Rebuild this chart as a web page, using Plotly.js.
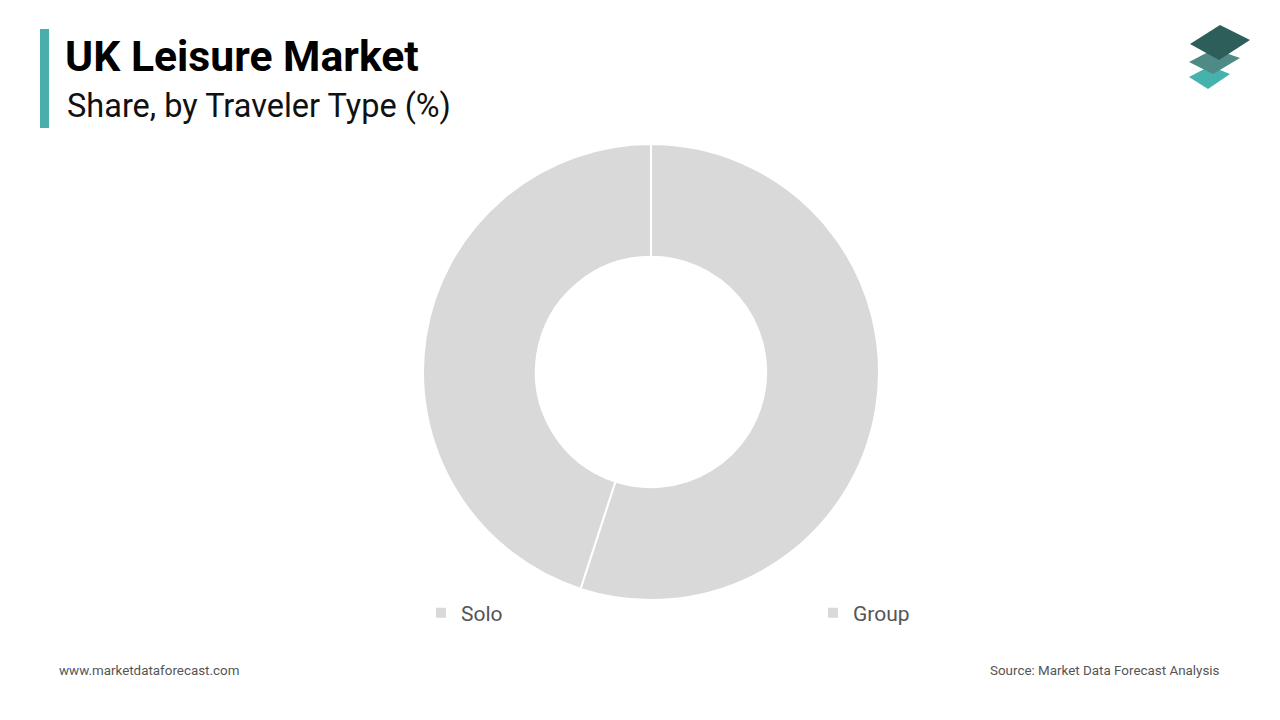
<!DOCTYPE html>
<html>
<head>
<meta charset="utf-8">
<script src="https://cdn.plot.ly/plotly-3.0.1.min.js"></script>
<style>
html,body{margin:0;padding:0;background:#fff;}
#chart{width:1280px;height:720px;}
</style>
</head>
<body>
<div id="chart"></div>
<script>
const categories = ["Solo", "Group"];
const shares = [55, 45];
const sliceColors = ["#d9d9d9", "#d9d9d9"];

const W = 1280, H = 720;
const px = x => x / W;
const py = y => 1 - y / H;

const trace = {
  type: "pie",
  labels: categories,
  values: shares,
  hole: 0.505,
  sort: false,
  direction: "clockwise",
  rotation: 0,
  textinfo: "none",
  hoverinfo: "label+percent",
  marker: { colors: sliceColors, line: { color: "#ffffff", width: 2 } },
  domain: { x: [px(651 - 228), px(651 + 228)], y: [py(600), py(144)] },
  showlegend: true
};

function diamond(l, t, r, b, color) {
  const p = [l, t, r, b].map(q => `${px(q[0])},${py(q[1])}`);
  return {
    type: "path", xref: "paper", yref: "paper",
    path: `M ${p[0]} L ${p[1]} L ${p[2]} L ${p[3]} Z`,
    fillcolor: color, line: { width: 0 }
  };
}

const layout = {
  width: W, height: H,
  margin: { l: 0, r: 0, t: 0, b: 0, autoexpand: false },
  paper_bgcolor: "#ffffff",
  font: { family: "Roboto, sans-serif", color: "#555555" },
  showlegend: true,
  legend: {
    orientation: "h",
    x: px(421), xanchor: "left",
    y: py(613), yanchor: "middle",
    entrywidth: 347, entrywidthmode: "pixels",
    itemwidth: 30,
    font: { size: 21, color: "#555555", family: "Roboto, sans-serif" },
    bgcolor: "rgba(0,0,0,0)"
  },
  shapes: [
    { type: "rect", xref: "paper", yref: "paper",
      x0: px(40), x1: px(49), y0: py(128), y1: py(29),
      fillcolor: "#4aaeaa", line: { width: 0 } },
    diamond([1189, 77], [1210, 66], [1230, 74], [1208, 89], "#45b2ad"),
    diamond([1189, 62], [1214, 49], [1240, 58], [1213, 74], "#4f8a86"),
    diamond([1190, 44], [1220, 25], [1250, 40], [1219, 60], "#2e5e5a")
  ],
  annotations: [
    { text: "<b>UK Leisure Market</b>", xref: "paper", yref: "paper",
      x: px(63), y: py(56), xanchor: "left", yanchor: "middle", showarrow: false,
      font: { family: "Roboto, sans-serif", size: 42.7, color: "#000000" } },
    { text: "Share, by Traveler Type (%)", xref: "paper", yref: "paper",
      x: px(65), y: py(106), xanchor: "left", yanchor: "middle", showarrow: false,
      font: { family: "Roboto, sans-serif", size: 32.5, color: "#111111" } },
    { text: "www.marketdataforecast.com", xref: "paper", yref: "paper",
      x: px(57), y: py(670), xanchor: "left", yanchor: "middle", showarrow: false,
      font: { family: "Roboto, sans-serif", size: 13.4, color: "#555555" } },
    { text: "Source: Market Data Forecast Analysis", xref: "paper", yref: "paper",
      x: px(1222), y: py(670), xanchor: "right", yanchor: "middle", showarrow: false,
      font: { family: "Roboto, sans-serif", size: 13.4, color: "#555555" } }
  ]
};

Plotly.newPlot("chart", [trace], layout, { displayModeBar: false });
</script>
</body>
</html>
